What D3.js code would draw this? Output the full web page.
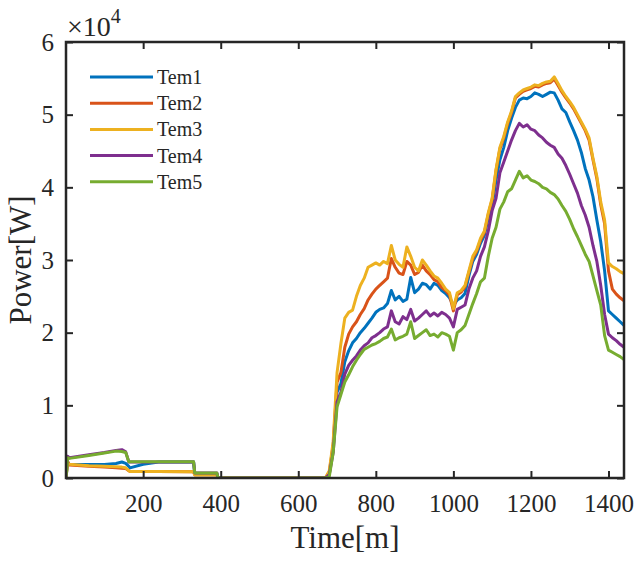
<!DOCTYPE html>
<html>
<head>
<meta charset="utf-8">
<script src="https://cdn.jsdelivr.net/npm/d3@7"></script>
<style>
	body { margin: 0; background: #fff; }
	text { font-family: "Liberation Serif", "Times New Roman", serif; fill: #262626; }
</style>
</head>
<body>
<svg width="642" height="563"></svg>
<script>
const minutes = [1, 5, 10, 60, 100, 130, 145, 155, 163, 166, 200, 240, 330, 333, 390, 393,
	670, 680, 690, 700, 710, 720, 730, 740, 750, 760, 770, 780, 790, 800, 810, 820, 830, 840, 850, 860,
	870, 880, 890, 900, 910, 920, 930, 940, 950, 960, 970, 980, 990, 1000, 1010, 1020, 1030, 1040, 1050,
	1060, 1070, 1080, 1090, 1100, 1110, 1120, 1130, 1140, 1150, 1160, 1170, 1180, 1190, 1200, 1210, 1220,
	1230, 1240, 1250, 1260, 1270, 1280, 1290, 1300, 1310, 1320, 1330, 1340, 1350, 1360, 1370, 1380, 1390,
	1400, 1410, 1420, 1430, 1440]

const tem1 = [0, 2000, 1900, 1850, 1850, 2000, 2200, 2000, 1600, 1400, 1900, 2200, 2200, 600, 600, 0,
	0, 600, 4000, 11800, 13000, 16000, 17500, 18600, 19200, 20000, 20600, 21300, 22000, 22800, 23200, 23400, 24000, 25800, 24500, 25000,
	24300, 24600, 27600, 25500, 26000, 26800, 26600, 26000, 26800, 26500, 25800, 25400, 24800, 23800, 24500, 24800, 25400, 27800, 29800,
	30800, 32300, 33400, 35800, 37500, 41000, 43800, 45500, 47800, 49500, 51000, 52000, 52300, 52200, 52500, 53000, 52800,
	52500, 52800, 53100, 53000, 52000, 50800, 50300, 49000, 47800, 46500, 44800, 42600, 41000, 38700, 35500, 32500, 28500,
	23000, 22500, 22000, 21500, 21000]

const tem2 = [0, 2300, 1800, 1600, 1500, 1400, 1350, 1300, 1000, 900, 900, 900, 850, 450, 450, 0,
	0, 800, 4500, 13200, 14500, 18000, 19800, 20800, 21500, 22500, 23300, 24500, 25300, 26000, 26500, 27000, 27500, 30200, 29000, 28200,
	28000, 29800, 29300, 28000, 28300, 29300, 28500, 28000, 27300, 27000, 26200, 25800, 25200, 23000, 25200, 25600, 26300, 28300, 30200,
	31200, 32700, 33800, 36300, 38300, 42300, 45300, 46800, 48800, 50300, 52300, 52800, 53200, 53400, 53600, 53900, 53800,
	54100, 54300, 54400, 54900, 54000, 53100, 52300, 51600, 50800, 49800, 48800, 47800, 46500, 43800, 41200, 37600, 35000,
	28500, 26000, 25300, 24800, 24400]

const tem3 = [0, 2000, 1900, 1700, 1600, 1550, 1500, 1400, 1000, 900, 900, 900, 850, 400, 400, 0,
	0, 1000, 5000, 14500, 18500, 22000, 22800, 23100, 25000, 26500, 27500, 29000, 29300, 29600, 29300, 29800, 29500, 32000, 30000, 29400,
	29000, 31800, 30500, 29000, 28500, 30000, 29300, 28500, 27800, 27500, 26800, 26000, 25500, 23300, 25500, 25800, 26500, 28500, 30500,
	31400, 33000, 34000, 36500, 38500, 42500, 45500, 47000, 49000, 50500, 52500, 53000, 53400, 53600, 53800, 54100, 54000,
	54300, 54500, 54600, 55200, 54300, 53300, 52500, 51800, 51000, 50000, 49000, 48000, 46800, 44000, 41500, 38000, 35500,
	29600, 29100, 28800, 28400, 28100]

const tem4 = [0, 3000, 2800, 3200, 3500, 3800, 3900, 3600, 2200, 2200, 2200, 2200, 2200, 700, 700, 0,
	0, 500, 3500, 10500, 11800, 14300, 15500, 16200, 16800, 17600, 18200, 18600, 19300, 19600, 20000, 20500, 20800, 23000, 21500, 21200,
	22200, 21800, 23200, 21600, 22000, 22500, 23000, 22300, 22700, 22300, 22800, 22500, 22000, 20800, 23200, 23500, 23800, 26000, 27500,
	28500, 30500, 31800, 34000, 36800, 38500, 42000, 43500, 45000, 46500, 47800, 48800, 48300, 48600, 48000, 47800, 47200,
	46800, 46200, 45800, 45500, 44600, 44000, 43000, 41800, 40500, 39200, 37500, 36200, 34500, 32000, 29800, 26500, 22500,
	19800, 19300, 18900, 18400, 18000]

const tem5 = [0, 2800, 2700, 3100, 3450, 3700, 3650, 3500, 2250, 2250, 2250, 2250, 2250, 700, 700, 0,
	0, 200, 3500, 9800, 11500, 13200, 14200, 15300, 16200, 17000, 17700, 18000, 18300, 18500, 18800, 19200, 19400, 20500, 19000, 19300,
	19500, 19800, 21500, 19200, 19600, 20000, 20400, 19600, 19800, 19400, 20000, 19800, 19500, 17600, 20000, 20400, 21000, 22500, 24000,
	25400, 27000, 27500, 30500, 33000, 34500, 37000, 38000, 39400, 39800, 41000, 42200, 41300, 41600, 41000, 40800, 40500,
	40000, 39800, 39300, 39000, 38400, 37500, 36700, 35600, 34300, 33200, 32000, 30800, 29800, 27800, 25800, 23800, 19600,
	17600, 17300, 17000, 16700, 16300]

const seriesNames = ["Tem1", "Tem2", "Tem3", "Tem4", "Tem5"]
const seriesColors = ["#0072BD", "#D95319", "#EDB120", "#7E2F8E", "#77AC30"]
const xTicks = [200, 400, 600, 800, 1000, 1200, 1400]
const yTicks = [0, 10000, 20000, 30000, 40000, 50000, 60000]

var svg = d3.select("svg")
var pLeft = 66, pRight = 624, pTop = 42, pBottom = 478

var x = d3.scaleLinear().domain([1, 1440]).range([pLeft, pRight])
var y = d3.scaleLinear().domain([0, 60000]).range([pBottom, pTop])

var allSeries = [tem1, tem2, tem3, tem4, tem5].map((vals, i) => ({
	name: seriesNames[i],
	color: seriesColors[i],
	points: minutes.map((m, j) => [m, vals[j]])
}))

svg.append("defs").append("clipPath").attr("id", "clip")
	.append("rect")
	.attr("x", pLeft).attr("y", pTop)
	.attr("width", pRight - pLeft).attr("height", pBottom - pTop)

var line = d3.line()
	.x(d => x(d[0]))
	.y(d => y(d[1]))

svg.append("g")
	.attr("clip-path", "url(#clip)")
	.selectAll("path")
	.data(allSeries)
	.join("path")
	.attr("d", d => line(d.points))
	.attr("fill", "none")
	.attr("stroke", d => d.color)
	.attr("stroke-width", 3)
	.attr("stroke-linejoin", "round")

// axes, MATLAB style box with inward ticks
var fmtY = d => d / 10000
var axisStyle = function (g) {
	g.select(".domain").remove()
	g.selectAll(".tick line").attr("stroke", "#262626").attr("stroke-width", 2)
	g.selectAll(".tick text")
		.attr("font-size", 25)
		.attr("font-family", "Liberation Serif")
		.attr("fill", "#262626")
}

svg.append("g")
	.attr("transform", `translate(0,${pBottom})`)
	.call(d3.axisBottom(x).tickValues(xTicks).tickSize(-7).tickPadding(15).tickFormat(d3.format("d")))
	.call(axisStyle)
	.selectAll(".tick text").attr("dy", "0.75em")

svg.append("g")
	.attr("transform", `translate(0,${pTop})`)
	.call(d3.axisTop(x).tickValues(xTicks).tickSize(-7).tickFormat(""))
	.call(axisStyle)

svg.append("g")
	.attr("transform", `translate(${pLeft},0)`)
	.call(d3.axisLeft(y).tickValues(yTicks).tickSize(-7).tickPadding(12).tickFormat(fmtY))
	.call(axisStyle)

svg.append("g")
	.attr("transform", `translate(${pRight},0)`)
	.call(d3.axisRight(y).tickValues(yTicks).tickSize(-7).tickFormat(""))
	.call(axisStyle)

svg.append("rect")
	.attr("x", pLeft).attr("y", pTop)
	.attr("width", pRight - pLeft).attr("height", pBottom - pTop)
	.attr("fill", "none")
	.attr("stroke", "#262626")
	.attr("stroke-width", 2.5)

// exponent label
var expo = svg.append("text")
	.attr("x", pLeft + 1)
	.attr("y", pTop - 6)
	.attr("font-size", 28)
expo.append("tspan").text("\u00d710")
expo.append("tspan").attr("font-size", 20).attr("dy", -13).text("4")

// axis titles
svg.append("text")
	.attr("x", (pLeft + pRight) / 2)
	.attr("y", 548)
	.attr("text-anchor", "middle")
	.attr("font-size", 31)
	.text("Time[m]")

svg.append("text")
	.attr("transform", `translate(31,${(pTop + pBottom) / 2}) rotate(-90)`)
	.attr("text-anchor", "middle")
	.attr("font-size", 31)
	.text("Power[W]")

// legend
var legend = svg.append("g")
	.selectAll("g")
	.data(allSeries)
	.join("g")
	.attr("transform", (d, i) => `translate(90,${77 + i * 26.2})`)
legend.append("line")
	.attr("x1", 0).attr("x2", 63)
	.attr("stroke", d => d.color)
	.attr("stroke-width", 3)
legend.append("text")
	.attr("x", 67)
	.attr("dy", "0.35em")
	.attr("font-size", 20)
	.text(d => d.name)
</script>
</body>
</html>
